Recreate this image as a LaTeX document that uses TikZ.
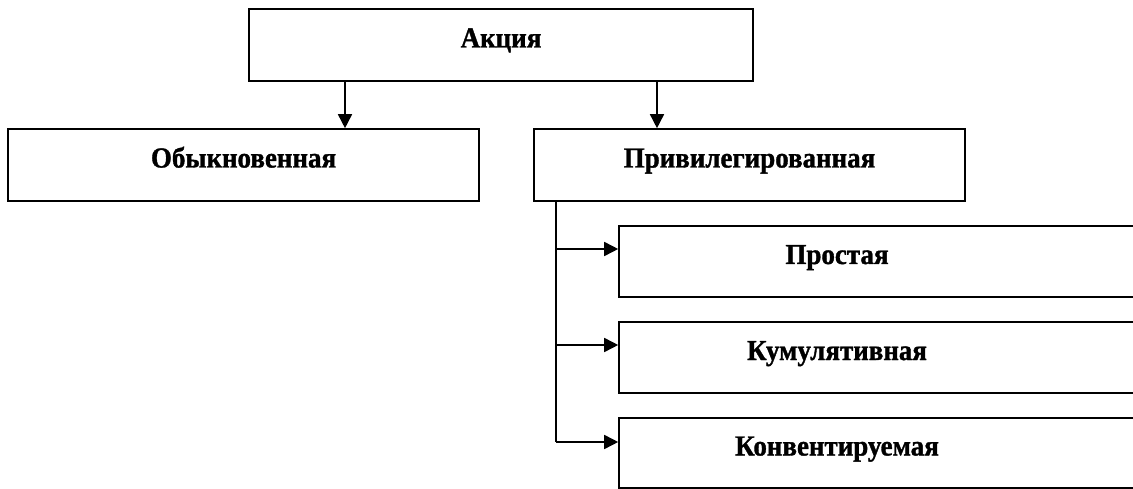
\documentclass[tikz,border=0pt]{standalone}
\usepackage{fontspec}
\setmainfont{Liberation Serif}[FakeStretch=0.93, BoldFeatures={FakeBold=1.2}]
\usetikzlibrary{arrows.meta}
\begin{document}
\begin{tikzpicture}[x=1pt,y=-1pt,
  txt/.style={font=\fontsize{29}{34}\selectfont\bfseries, text height=0.72em, text depth=0.22em, inner sep=0pt},
  box/.style={draw, line width=1.6pt, rectangle, txt},
  arr/.style={line width=1.6pt, -{Triangle[length=14pt,width=14pt]}},
  ln/.style={line width=1.6pt}]
\useasboundingbox (0,0) rectangle (1133,489);
\clip (0,0) rectangle (1133,489);
\node[box, minimum width=504pt, minimum height=72pt] (akc) at (501,45) {Акция};
\node[box, minimum width=471pt, minimum height=72pt] (ob) at (243.5,165) {Обыкновенная};
\node[box, minimum width=431pt, minimum height=72pt] (pv) at (749.5,165) {Привилегированная};
\node[box, minimum width=541pt, minimum height=71pt, label={[txt, xshift=-52.5pt]center:Простая}] (c1) at (889.5,261.5) {};
\node[box, minimum width=541pt, minimum height=71pt, label={[txt, xshift=-52.5pt]center:Кумулятивная}] (c2) at (889.5,357.5) {};
\node[box, minimum width=541pt, minimum height=70pt, label={[txt, xshift=-52.5pt]center:Конвентируемая}] (c3) at (889.5,453) {};
\draw[arr] ([xshift=-156pt]akc.south) -- ([xshift=-156pt]akc.south |- ob.north);
\draw[arr] ([xshift=156pt]akc.south) -- ([xshift=156pt]akc.south |- pv.north);
\coordinate (bx) at ([xshift=23pt]pv.south west);
\coordinate (a1) at ([yshift=12.5pt]c1.west);
\coordinate (a2) at ([yshift=12.5pt]c2.west);
\coordinate (a3) at ([yshift=11pt]c3.west);
\draw[ln] (bx) -- (bx |- a3);
\draw[arr] (bx |- a1) -- (a1);
\draw[arr] (bx |- a2) -- (a2);
\draw[arr] (bx |- a3) -- (a3);
\end{tikzpicture}
\end{document}
